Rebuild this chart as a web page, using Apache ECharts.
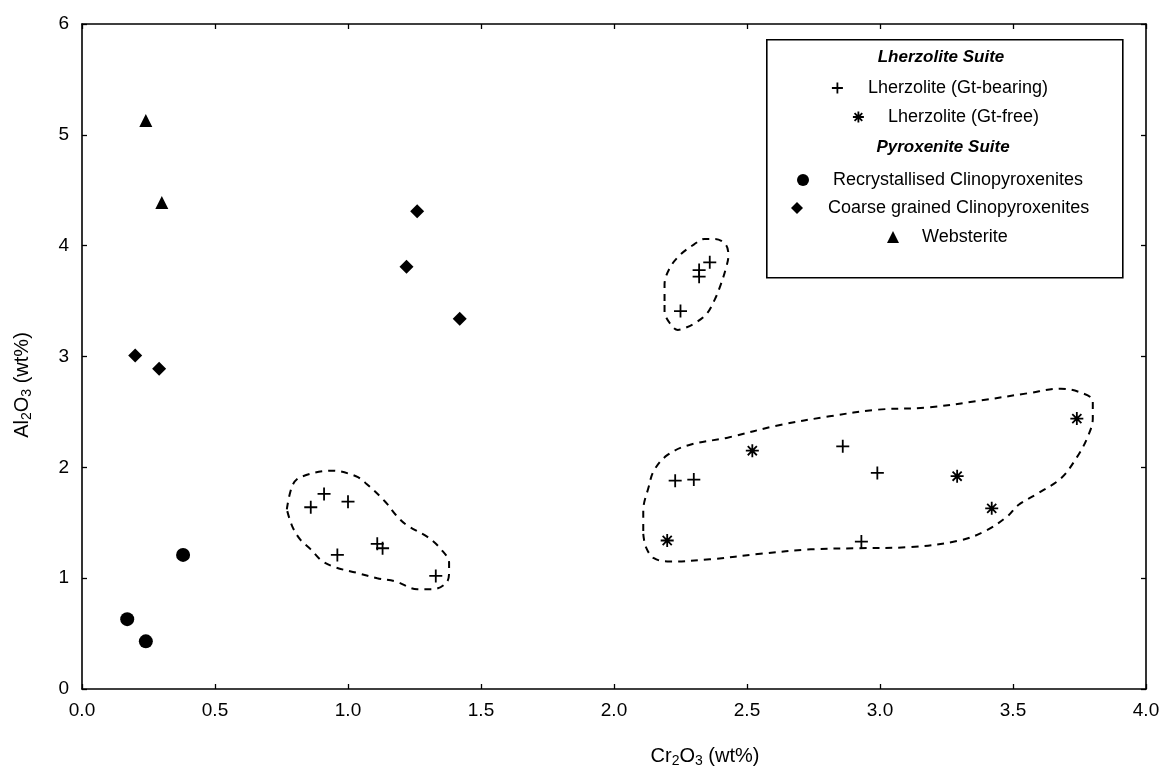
<!DOCTYPE html>
<html><head><meta charset="utf-8">
<script src="https://cdn.jsdelivr.net/npm/echarts@6/dist/echarts.min.js"></script>
<style>html,body{margin:0;padding:0;background:#fff}#c{width:1172px;height:770px}</style>
</head><body><div id="c"></div><script>
// ---- data (Cr2O3 wt%, Al2O3 wt%) ----
const xTicks = { min: 0, max: 4, interval: 0.5 };
const yTicks = { min: 0, max: 6, interval: 1 };
const seriesNames = ['Lherzolite (Gt-bearing)', 'Lherzolite (Gt-free)', 'Recrystallised Clinopyroxenites', 'Coarse grained Clinopyroxenites', 'Websterite'];
const suiteHeaders = ['Lherzolite Suite', 'Pyroxenite Suite'];
const gtBearing = [[0.86,1.64],[0.91,1.76],[1.00,1.69],[0.96,1.21],[1.11,1.31],[1.13,1.27],[1.33,1.02],
  [2.36,3.85],[2.32,3.78],[2.32,3.72],[2.25,3.41],
  [2.23,1.88],[2.30,1.89],[2.86,2.19],[2.99,1.95],[2.93,1.33]];
const gtFree = [[2.20,1.34],[2.52,2.15],[3.29,1.92],[3.42,1.63],[3.74,2.44]];
const recryst = [[0.38,1.21],[0.17,0.63],[0.24,0.43]];
const coarse = [[0.20,3.01],[0.29,2.89],[1.26,4.31],[1.22,3.81],[1.42,3.34]];
const webst = [[0.24,5.13],[0.30,4.39]];
// hand-drawn dashed group outlines (data coordinates)
const outlineA = [[0.77,1.62],[0.79,1.83],[0.82,1.91],[0.94,1.97],[1.03,1.92],[1.07,1.85],[1.14,1.69],[1.18,1.57],[1.22,1.48],[1.30,1.37],[1.35,1.26],[1.38,1.14],[1.38,1.05],[1.37,0.96],[1.32,0.90],[1.26,0.90],[1.18,0.97],[1.11,1.00],[1.03,1.05],[0.95,1.10],[0.90,1.16],[0.86,1.26],[0.82,1.35],[0.79,1.47],[0.77,1.62]];
const outlineB = [[2.19,3.50],[2.19,3.65],[2.21,3.80],[2.25,3.92],[2.30,4.01],[2.34,4.06],[2.38,4.06],[2.42,4.01],[2.43,3.91],[2.42,3.79],[2.40,3.64],[2.38,3.52],[2.35,3.39],[2.31,3.31],[2.27,3.26],[2.24,3.24],[2.21,3.30],[2.19,3.41],[2.19,3.50]];
const outlineC = [[2.11,1.40],[2.12,1.28],[2.15,1.18],[2.21,1.15],[2.36,1.17],[2.55,1.22],[2.74,1.26],[2.92,1.27],[3.11,1.28],[3.30,1.34],[3.40,1.43],[3.48,1.56],[3.52,1.66],[3.59,1.76],[3.68,1.90],[3.74,2.09],[3.78,2.27],[3.80,2.44],[3.80,2.60],[3.76,2.67],[3.68,2.71],[3.56,2.67],[3.37,2.60],[3.18,2.54],[2.99,2.52],[2.81,2.46],[2.62,2.38],[2.43,2.27],[2.28,2.20],[2.20,2.11],[2.15,1.97],[2.13,1.82],[2.11,1.61],[2.11,1.40]];

// ---- styles ----
const FONT = '"Liberation Sans", Arial, Helvetica, sans-serif';
const plusPath = 'path://M0,7L14,7M7,0L7,14';
const starPath = 'path://M0,6L12,6M6,0L6,12M1.8,1.8L10.2,10.2M10.2,1.8L1.8,10.2';
const strokeStyle = { color: 'rgba(0,0,0,0)', borderColor: '#000', borderWidth: 1.8, opacity: 1 };
const fillStyle = { color: '#000', borderWidth: 0, opacity: 1 };

function axisCommon(o) {
  return Object.assign({
    type: 'value',
    axisLine: { show: true, onZero: false, lineStyle: { color: '#000', width: 1.6 } },
    axisTick: { show: true, inside: true, length: 5, lineStyle: { color: '#000', width: 1.3 } },
    splitLine: { show: false }
  }, o);
}

const chart = echarts.init(document.getElementById('c'), null, { renderer: 'canvas' });
const outlineSeries = [outlineA, outlineB, outlineC].map(d => ({
  type: 'line', data: d, smooth: 0.35, symbol: 'none', silent: true,
  lineStyle: { color: '#000', width: 2, type: [7, 6] }, z: 1, legendHoverLink: false
}));

function legendItem(name, icon, left, yc, size, pad, style) {
  return {
    data: [name], left: left, top: yc - 11, padding: 0, icon: icon,
    itemWidth: size, itemHeight: size, selectedMode: false,
    itemStyle: style,
    textStyle: { fontSize: 18, fontFamily: FONT, color: '#000', lineHeight: 22, padding: [0, 0, 0, pad] }
  };
}

const richSub = {
  n: { fontSize: 20, fontFamily: FONT, fill: '#000' },
  s: { fontSize: 14, fontFamily: FONT, fill: '#000', padding: [11, 0, 0, 0] }
};

chart.setOption({
  animation: false,
  backgroundColor: '#fff',
  grid: { left: 82, top: 24, width: 1064, height: 665, containLabel: false },
  xAxis: [
    axisCommon(Object.assign({ position: 'bottom', axisLabel: { show: true, margin: 12, fontSize: 19, color: '#000', fontFamily: FONT, formatter: v => v.toFixed(1) } }, xTicks)),
    axisCommon(Object.assign({ position: 'top', axisLabel: { show: false } }, xTicks))
  ],
  yAxis: [
    axisCommon(Object.assign({ position: 'left', axisLabel: { show: true, margin: 13, fontSize: 19, color: '#000', fontFamily: FONT } }, yTicks)),
    axisCommon(Object.assign({ position: 'right', axisLabel: { show: false } }, yTicks))
  ],
  legend: [
    legendItem(seriesNames[0], plusPath, 831, 88, 11, 20, strokeStyle),
    legendItem(seriesNames[1], starPath, 852, 117, 11, 19, strokeStyle),
    legendItem(seriesNames[2], 'circle', 797, 180, 12, 19, fillStyle),
    legendItem(seriesNames[3], 'diamond', 791, 208, 12, 20, fillStyle),
    legendItem(seriesNames[4], 'triangle', 887, 237, 12, 18, fillStyle)
  ],
  graphic: [
    { type: 'rect', left: 766, top: 39, shape: { width: 356, height: 238 }, style: { fill: '#fff', stroke: '#000', lineWidth: 1.6 }, z: 2, silent: true },
    { type: 'text', z: 3, style: { text: suiteHeaders[0], font: 'italic bold 17px ' + FONT, fill: '#000', x: 941, y: 57, align: 'center', verticalAlign: 'middle' } },
    { type: 'text', z: 3, style: { text: suiteHeaders[1], font: 'italic bold 17px ' + FONT, fill: '#000', x: 943, y: 147, align: 'center', verticalAlign: 'middle' } },
    { type: 'text', z: 3, style: {
        x: 705, y: 756, align: 'center', verticalAlign: 'middle',
        text: '{n|Cr}{s|2}{n|O}{s|3}{n| (wt%)}', rich: richSub
      } },
    { type: 'text', z: 3, x: 22, y: 385, rotation: Math.PI / 2, style: {
        x: 0, y: 0, align: 'center', verticalAlign: 'middle',
        text: '{n|Al}{s|2}{n|O}{s|3}{n| (wt%)}', rich: richSub
      } }
  ],
  series: [
    { name: seriesNames[0], type: 'scatter', data: gtBearing, symbol: plusPath, symbolSize: 13, itemStyle: strokeStyle, z: 5 },
    { name: seriesNames[1], type: 'scatter', data: gtFree, symbol: starPath, symbolSize: 13, itemStyle: strokeStyle, z: 5 },
    { name: seriesNames[2], type: 'scatter', data: recryst, symbol: 'circle', symbolSize: 14, itemStyle: fillStyle, z: 5 },
    { name: seriesNames[3], type: 'scatter', data: coarse, symbol: 'diamond', symbolSize: 14, itemStyle: fillStyle, z: 5 },
    { name: seriesNames[4], type: 'scatter', data: webst, symbol: 'triangle', symbolSize: 13, itemStyle: fillStyle, z: 5 }
  ].concat(outlineSeries)
});
</script></body></html>
